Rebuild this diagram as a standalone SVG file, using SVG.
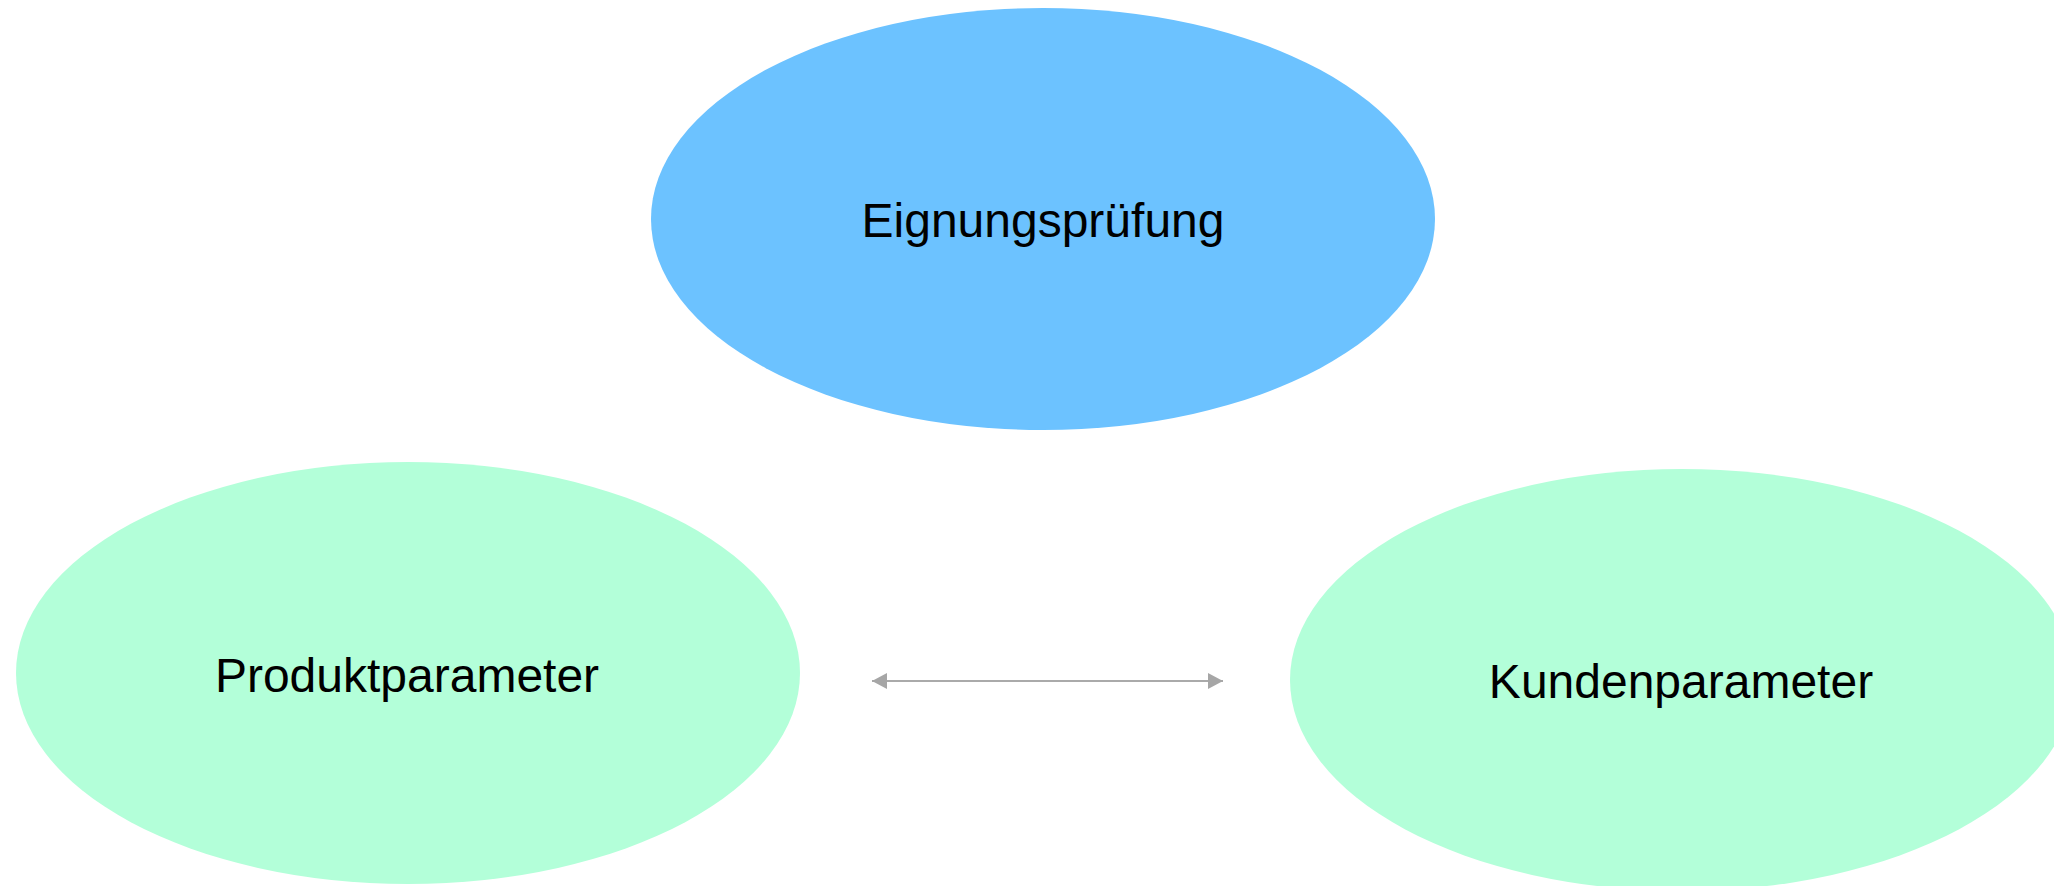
<svg xmlns="http://www.w3.org/2000/svg" width="2054" height="886" viewBox="0 0 2054 886">
<style>
.lbl{font-family:"Liberation Sans",Arial,sans-serif;font-size:48px;fill:#000;text-anchor:middle}
.blue{fill:#6cc2ff}
.green{fill:#b3ffd9}
.conn{stroke:#aaaaaa;stroke-width:2;fill:none}
</style>
<defs>
<marker id="ah" viewBox="0 0 15 16" refX="15" refY="8" markerWidth="15" markerHeight="16" markerUnits="userSpaceOnUse" orient="auto-start-reverse">
<path d="M0,0 L15,8 L0,16 Z" fill="#a6a6a6"/>
</marker>
</defs>
<rect width="2054" height="886" fill="#fff"/>
<g id="node-eignung">
<ellipse class="blue" cx="1043" cy="219" rx="392" ry="211"/>
<text class="lbl" x="1043" y="237">Eignungsprüfung</text>
</g>
<g id="node-produkt">
<ellipse class="green" cx="408" cy="673" rx="392" ry="211"/>
<text class="lbl" x="407" y="692">Produktparameter</text>
</g>
<g id="node-kunden">
<ellipse class="green" cx="1682" cy="680" rx="392" ry="211"/>
<text class="lbl" x="1681" y="698">Kundenparameter</text>
</g>
<g id="connectors">
<line class="conn" x1="872" y1="681" x2="1223" y2="681" marker-start="url(#ah)" marker-end="url(#ah)"/>
</g>
</svg>
